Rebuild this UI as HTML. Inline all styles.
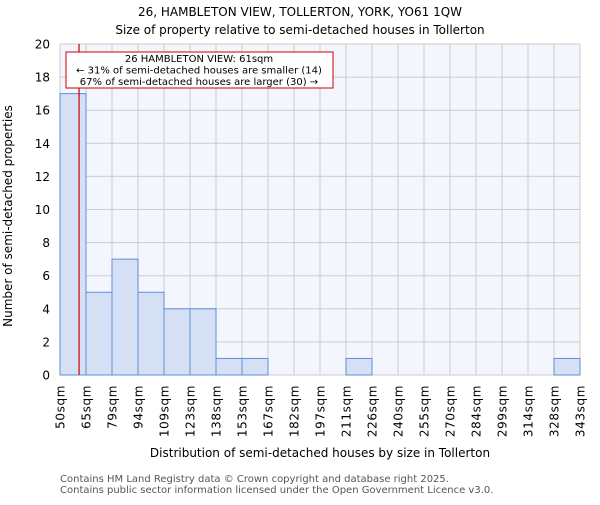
<!DOCTYPE html>
<html><head><meta charset="utf-8"><style>
body{margin:0;background:#fff}
svg{font-family:"DejaVu Sans","Liberation Sans",sans-serif}
</style></head><body>
<svg id="chart" width="600" height="500" viewBox="0 0 600 500">
<text x="300" y="16" text-anchor="middle" font-size="12" fill="#000">26, HAMBLETON VIEW, TOLLERTON, YORK, YO61 1QW</text>
<text x="300" y="34" text-anchor="middle" font-size="12" fill="#000">Size of property relative to semi-detached houses in Tollerton</text>
<rect x="60" y="44" width="520" height="331" fill="#f3f6fd"/>
<g id="grid"></g>
<g id="bars"></g>
<g id="yticks"></g>
<g id="xticks"></g>
<line id="marker" stroke="#cc0000" stroke-width="1.2"/>
<g>
<rect x="66" y="52" width="267" height="36" fill="#fff" stroke="#cc0000" stroke-width="1"/>
<text x="199" y="62" text-anchor="middle" font-size="10">26 HAMBLETON VIEW: 61sqm</text>
<text x="199" y="73.5" text-anchor="middle" font-size="10">← 31% of semi-detached houses are smaller (14)</text>
<text x="199" y="85" text-anchor="middle" font-size="10">67% of semi-detached houses are larger (30) →</text>
</g>
<text transform="translate(12,216) rotate(-90)" text-anchor="middle" font-size="12">Number of semi-detached properties</text>
<text x="320" y="457" text-anchor="middle" font-size="12">Distribution of semi-detached houses by size in Tollerton</text>
<text x="60" y="482" font-size="10" fill="#555">Contains HM Land Registry data © Crown copyright and database right 2025.</text>
<text x="60" y="493" font-size="10" fill="#555">Contains public sector information licensed under the Open Government Licence v3.0.</text>
</svg>
<script>
const binLabels=["50sqm","65sqm","79sqm","94sqm","109sqm","123sqm","138sqm","153sqm","167sqm","182sqm","197sqm","211sqm","226sqm","240sqm","255sqm","270sqm","284sqm","299sqm","314sqm","328sqm","343sqm"];
const counts=[17,5,7,5,4,4,1,1,0,0,0,1,0,0,0,0,0,0,0,1];
const yTicks=[0,2,4,6,8,10,12,14,16,18,20];
const propertyBin=0.733;
const NS="http://www.w3.org/2000/svg";
const X0=60,X1=580,Y0=375,Y1=44,YMAX=20;
const bw=(X1-X0)/counts.length;
const xs=i=>X0+i*bw;
const ys=v=>Y0-(v/YMAX)*(Y0-Y1);
function mk(t,a,p){const e=document.createElementNS(NS,t);for(const k in a)e.setAttribute(k,a[k]);p.appendChild(e);return e;}
const grid=document.getElementById('grid'),bars=document.getElementById('bars'),yt=document.getElementById('yticks'),xt=document.getElementById('xticks');
yTicks.forEach(v=>{
 const l=mk('line',{x1:X0,x2:X1,y1:ys(v),y2:ys(v),stroke:'#cccccc','stroke-width':1},grid);
 
 
 const t=mk('text',{x:50,y:ys(v)+4.5,'text-anchor':'end','font-size':12},yt);
 t.textContent=v;
 
 
});
binLabels.forEach((s,i)=>{
 const l=mk('line',{x1:xs(i),x2:xs(i),y1:Y1,y2:Y0,stroke:'#cccccc','stroke-width':1},grid);
 
 
 const t=mk('text',{transform:`translate(${xs(i)+4.5},385) rotate(-90)`,'text-anchor':'end','font-size':12,'letter-spacing':'0.6'},xt);
 t.textContent=s;
 
 
});
counts.forEach((c,i)=>{
 const r=mk('rect',{x:xs(i),y:ys(c),width:bw,height:Y0-ys(c),fill:c>0?'#d6e0f4':'#f3f6fd',stroke:c>0?'#5a8fd6':'none','stroke-width':1},bars);
 
 
});
const m=document.getElementById('marker');
const mx=X0+propertyBin*bw;
m.setAttribute('x1',mx);m.setAttribute('x2',mx);m.setAttribute('y1',Y1);m.setAttribute('y2',Y0);
</script>
</body></html>
